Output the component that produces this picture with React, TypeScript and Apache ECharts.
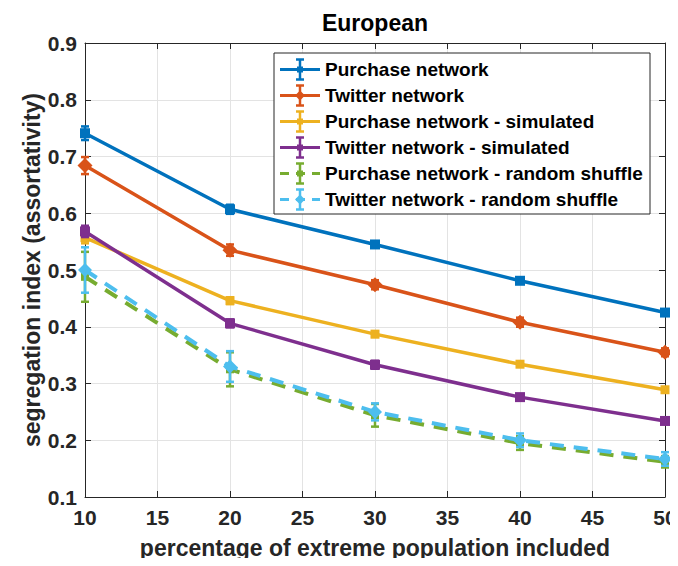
import React, { useEffect, useRef } from "react";
import * as echarts from "echarts";

// Share of the extreme population included (%)
const percentages = [10, 20, 30, 40, 50];

// Segregation index per network and its half error bar
const purchase = [0.741, 0.607, 0.545, 0.481, 0.425];
const purchaseErr = [0.012, 0.008, 0.005, 0.004, 0.004];
const twitter = [0.684, 0.535, 0.474, 0.408, 0.355];
const twitterErr = [0.015, 0.01, 0.008, 0.008, 0.007];
const purchaseSim = [0.557, 0.446, 0.387, 0.334, 0.289];
const purchaseSimErr = [0.01, 0.006, 0.005, 0.004, 0.004];
const twitterSim = [0.568, 0.406, 0.333, 0.276, 0.234];
const twitterSimErr = [0.01, 0.007, 0.007, 0.004, 0.004];
const purchaseShuffle = [0.488, 0.325, 0.244, 0.195, 0.162];
const purchaseShuffleErr = [0.044, 0.03, 0.02, 0.012, 0.01];
const twitterShuffle = [0.5, 0.33, 0.25, 0.2, 0.167];
const twitterShuffleErr = [0.04, 0.027, 0.015, 0.012, 0.012];

const yTicks = [0.1, 0.2, 0.3, 0.4, 0.5, 0.6, 0.7, 0.8, 0.9];

const FONT = "'Liberation Sans', Arial, Helvetica, sans-serif";
const AXIS_COLOR = "#262626";

type SeriesDef = {
  name: string;
  values: number[];
  errors: number[];
  color: string;
  symbol: string;
  symbolSize: number;
  dashed: boolean;
};

const seriesDefs: SeriesDef[] = [
  { name: "Purchase network", values: purchase, errors: purchaseErr, color: "#0072BD", symbol: "rect", symbolSize: 10, dashed: false },
  { name: "Twitter network", values: twitter, errors: twitterErr, color: "#D95319", symbol: "diamond", symbolSize: 15, dashed: false },
  { name: "Purchase network - simulated", values: purchaseSim, errors: purchaseSimErr, color: "#EDB120", symbol: "rect", symbolSize: 9, dashed: false },
  { name: "Twitter network - simulated", values: twitterSim, errors: twitterSimErr, color: "#7E2F8E", symbol: "rect", symbolSize: 10, dashed: false },
  { name: "Purchase network - random shuffle", values: purchaseShuffle, errors: purchaseShuffleErr, color: "#77AC30", symbol: "rect", symbolSize: 8, dashed: true },
  { name: "Twitter network - random shuffle", values: twitterShuffle, errors: twitterShuffleErr, color: "#4DBEEE", symbol: "diamond", symbolSize: 14, dashed: true },
];

function errorBarRenderer(color: string) {
  return (params: any, api: any) => {
    const x = api.value(0);
    const lo = api.coord([x, api.value(1)]);
    const hi = api.coord([x, api.value(2)]);
    const cap = 4;
    const style = { stroke: color, lineWidth: 2.5 };
    return {
      type: "group",
      children: [
        { type: "line", shape: { x1: lo[0], y1: lo[1], x2: hi[0], y2: hi[1] }, style },
        { type: "line", shape: { x1: lo[0] - cap, y1: lo[1], x2: lo[0] + cap, y2: lo[1] }, style },
        { type: "line", shape: { x1: hi[0] - cap, y1: hi[1], x2: hi[0] + cap, y2: hi[1] }, style },
      ],
    };
  };
}

function legendGraphics() {
  const boxLeft = 274;
  const boxTop = 53;
  const boxRight = 650;
  const boxBottom = 214;
  const rowStart = 69.5;
  const rowGap = 26;
  const Z = 100;
  const children: any[] = [
    {
      type: "rect",
      z: Z,
      shape: { x: boxLeft, y: boxTop, width: boxRight - boxLeft, height: boxBottom - boxTop },
      style: { fill: "#ffffff", stroke: AXIS_COLOR, lineWidth: 1 },
    },
  ];
  seriesDefs.forEach((s, i) => {
    const y = rowStart + i * rowGap;
    const cx = 300;
    const lineStyle: any = { stroke: s.color, lineWidth: 3 };
    if (s.dashed) lineStyle.lineDash = [9, 7];
    children.push({ type: "line", z: Z + 1, shape: { x1: 280, y1: y, x2: 320, y2: y }, style: lineStyle });
    const eb = { stroke: s.color, lineWidth: 2.5 };
    children.push({ type: "line", z: Z + 1, shape: { x1: cx, y1: y - 10, x2: cx, y2: y + 10 }, style: eb });
    children.push({ type: "line", z: Z + 1, shape: { x1: cx - 4, y1: y - 10, x2: cx + 4, y2: y - 10 }, style: eb });
    children.push({ type: "line", z: Z + 1, shape: { x1: cx - 4, y1: y + 10, x2: cx + 4, y2: y + 10 }, style: eb });
    if (s.symbol === "diamond") {
      const r = 5;
      children.push({
        type: "polygon",
        z: Z + 2,
        shape: { points: [[cx, y - r], [cx + r, y], [cx, y + r], [cx - r, y]] },
        style: { fill: s.color },
      });
    } else {
      children.push({ type: "rect", z: Z + 2, shape: { x: cx - 3, y: y - 3, width: 6, height: 6 }, style: { fill: s.color } });
    }
    children.push({
      type: "text",
      z: Z + 2,
      x: 325,
      y,
      style: {
        text: s.name,
        fill: "#000000",
        font: `bold 19px ${FONT}`,
        textVerticalAlign: "middle",
        textAlign: "left",
      },
    });
  });
  return { type: "group", z: Z, children };
}

export default function App() {
  const ref = useRef<HTMLDivElement>(null);

  useEffect(() => {
    if (!ref.current) return;
    const chart = echarts.init(ref.current, undefined, { renderer: "svg" });

    const lineSeries = seriesDefs.map((s, i) => ({
      type: "line",
      name: s.name,
      data: percentages.map((p, j) => [p, s.values[j]]),
      symbol: s.symbol,
      symbolSize: s.symbolSize,
      showSymbol: true,
      clip: false,
      z: 3 + i,
      itemStyle: { color: s.color },
      lineStyle: { color: s.color, width: s.dashed ? 4 : 3.5, type: s.dashed ? [14, 10] : "solid" },
      emphasis: { disabled: true },
    }));

    const errorSeries = seriesDefs.map((s, i) => ({
      type: "custom",
      name: s.name + " error",
      renderItem: errorBarRenderer(s.color),
      data: percentages.map((p, j) => [p, s.values[j] - s.errors[j], s.values[j] + s.errors[j]]),
      clip: false,
      z: 3 + i,
    }));

    const series: any[] = [];
    seriesDefs.forEach((_, i) => {
      series.push(errorSeries[i]);
      series.push(lineSeries[i]);
    });

    chart.setOption({
      animation: false,
      backgroundColor: "#ffffff",
      grid: { left: 85, right: 13, top: 43, bottom: 69, containLabel: false, outerBoundsMode: "none" },
      xAxis: [
        {
          type: "value",
          min: 10,
          max: 50,
          interval: 5,
          name: "percentage of extreme population included",
          nameLocation: "middle",
          nameGap: 39,
          nameMoveOverlap: false,
          nameTextStyle: { color: AXIS_COLOR, fontFamily: FONT, fontWeight: "bold", fontSize: 23 },
          axisLine: { show: true, lineStyle: { color: AXIS_COLOR, width: 1 } },
          axisTick: { show: true, inside: true, length: 6, lineStyle: { color: AXIS_COLOR } },
          axisLabel: { color: AXIS_COLOR, fontFamily: FONT, fontWeight: "bold", fontSize: 21, margin: 10 },
          splitLine: { show: true, lineStyle: { color: "#e3e3e3", width: 1 } },
        },
        {
          type: "value",
          position: "top",
          min: 10,
          max: 50,
          interval: 5,
          axisLine: { show: true, lineStyle: { color: AXIS_COLOR, width: 1 } },
          axisTick: { show: true, inside: true, length: 6, lineStyle: { color: AXIS_COLOR } },
          axisLabel: { show: false },
          splitLine: { show: false },
        },
      ],
      yAxis: [
        {
          type: "value",
          min: 0.1,
          max: 0.9,
          interval: 0.1,
          name: "segregation index (assortativity)",
          nameLocation: "middle",
          nameGap: 42,
          nameMoveOverlap: false,
          nameTextStyle: { color: AXIS_COLOR, fontFamily: FONT, fontWeight: "bold", fontSize: 23 },
          axisLine: { show: true, lineStyle: { color: AXIS_COLOR, width: 1 } },
          axisTick: { show: true, inside: true, length: 6, lineStyle: { color: AXIS_COLOR } },
          axisLabel: {
            color: AXIS_COLOR,
            fontFamily: FONT,
            fontWeight: "bold",
            fontSize: 21,
            margin: 8,
            formatter: (v: number) => {
              const t = yTicks.find((k) => Math.abs(k - v) < 1e-6);
              return (t !== undefined ? t : v).toFixed(1);
            },
          },
          splitLine: { show: true, lineStyle: { color: "#e3e3e3", width: 1 } },
        },
        {
          type: "value",
          position: "right",
          min: 0.1,
          max: 0.9,
          interval: 0.1,
          axisLine: { show: true, lineStyle: { color: AXIS_COLOR, width: 1 } },
          axisTick: { show: true, inside: true, length: 6, lineStyle: { color: AXIS_COLOR } },
          axisLabel: { show: false },
          splitLine: { show: false },
        },
      ],
      graphic: [
        {
          type: "text",
          x: 375,
          y: 23,
          style: {
            text: "European",
            fill: "#000000",
            font: `bold 23px ${FONT}`,
            textAlign: "center",
            textVerticalAlign: "middle",
          },
        },
        legendGraphics(),
      ],
      series,
    });

    return () => chart.dispose();
  }, []);

  return <div ref={ref} style={{ width: 678, height: 566, margin: -8 }} />;
}
